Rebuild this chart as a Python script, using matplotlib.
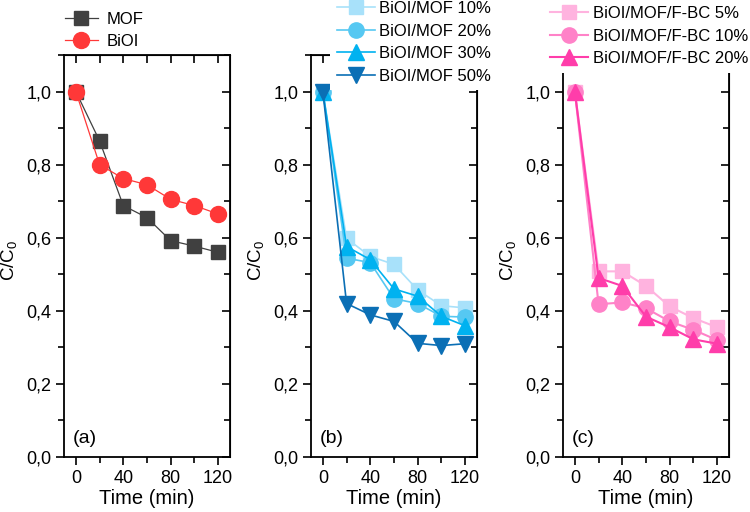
import matplotlib
matplotlib.use("Agg")
import matplotlib.pyplot as plt
from matplotlib.ticker import MultipleLocator, FuncFormatter

plt.rcParams['font.family'] = ['Liberation Sans', 'DejaVu Sans']

# time points (min)
time = [0, 20, 40, 60, 80, 100, 120]

# panel (a)
mof = [1.0, 0.865, 0.688, 0.655, 0.592, 0.577, 0.560]
bioi = [1.0, 0.80, 0.762, 0.745, 0.705, 0.688, 0.665]

# panel (b)
bm10 = [1.0, 0.598, 0.549, 0.527, 0.457, 0.414, 0.408]
bm20 = [1.0, 0.544, 0.532, 0.433, 0.420, 0.385, 0.383]
bm30 = [1.0, 0.576, 0.540, 0.460, 0.440, 0.385, 0.359]
bm50 = [1.0, 0.420, 0.389, 0.371, 0.311, 0.305, 0.310]

# panel (c)
fbc5 = [1.0, 0.508, 0.508, 0.468, 0.412, 0.380, 0.355]
fbc10 = [1.0, 0.418, 0.423, 0.407, 0.371, 0.348, 0.320]
fbc20 = [1.0, 0.490, 0.468, 0.384, 0.355, 0.322, 0.310]

fig = plt.figure(figsize=(7.5, 5.12), dpi=100)
lefts = [64 / 750, 311 / 750, 563 / 750]
axes = [fig.add_axes([l, 0.1074, 166 / 750, 402 / 512]) for l in lefts]

comma = FuncFormatter(lambda v, p: f"{v:.1f}".replace('.', ','))

for ax, lab in zip(axes, ['(a)', '(b)', '(c)']):
    ax.set_xlim(-10, 130)
    ax.set_ylim(0, 1.1)
    ax.xaxis.set_major_locator(MultipleLocator(40))
    ax.xaxis.set_minor_locator(MultipleLocator(20))
    ax.yaxis.set_major_locator(MultipleLocator(0.2))
    ax.yaxis.set_minor_locator(MultipleLocator(0.1))
    ax.yaxis.set_major_formatter(comma)
    for s in ax.spines.values():
        s.set_linewidth(1.3)
    ax.tick_params(which='both', direction='out', width=1.2, labelsize=13,
                   top=False, right=False, pad=3)
    ax.tick_params(which='major', length=6)
    ax.tick_params(which='minor', length=4)
    # inward ticks on top and right
    sx = ax.secondary_xaxis('top')
    sx.xaxis.set_major_locator(MultipleLocator(20))
    sx.tick_params(direction='in', length=6, width=1.2, labeltop=False)
    sy = ax.secondary_yaxis('right')
    sy.yaxis.set_major_locator(MultipleLocator(0.2))
    sy.yaxis.set_minor_locator(MultipleLocator(0.1))
    sy.tick_params(which='major', direction='in', length=6, width=1.2, labelright=False)
    sy.tick_params(which='minor', direction='in', length=4, width=1.2)
    ax.set_xlabel('Time (min)', fontsize=14.5, labelpad=2)
    ax.set_ylabel(r'$\mathregular{C/C_0}$', fontsize=13.5)
    ax.yaxis.set_label_coords(-0.27, 0.49)
    ax.text(0.055, 0.035, lab, transform=ax.transAxes, fontsize=14)

leg_kw = dict(fontsize=12, labelspacing=0.45, loc='upper left')

ax = axes[0]
ax.plot(time, mof, '-s', color='#404040', lw=0.9, ms=10, label='MOF')
ax.plot(time, bioi, '-o', color='#FF3838', lw=0.9, ms=11.5, label='BiOI')
h, l = ax.get_legend_handles_labels()
fig.legend(h, l, bbox_to_anchor=(0.086, 0.977), frameon=False, borderpad=0,
           borderaxespad=0, handlelength=2.0, handletextpad=0.5, **leg_kw)

ax = axes[1]
ax.plot(time, bm10, '-s', color='#A8E1FA', lw=1.2, ms=10, label='BiOI/MOF 10%')
ax.plot(time, bm20, '-o', color='#56C8F2', lw=1.2, ms=11, label='BiOI/MOF 20%')
ax.plot(time, bm30, '-^', color='#00B2F0', lw=1.2, ms=11, label='BiOI/MOF 30%')
ax.plot(time, bm50, '-v', color='#0B6FB5', lw=1.2, ms=11, label='BiOI/MOF 50%')
h, l = ax.get_legend_handles_labels()
fig.legend(h, l, bbox_to_anchor=(0.44, 1.011), frameon=True, facecolor='white',
           edgecolor='none', framealpha=1, fancybox=False, borderpad=0.4,
           borderaxespad=0, handlelength=2.3, handletextpad=0.25, **leg_kw)

ax = axes[2]
ax.plot(time, fbc5, '-s', color='#FFB3DF', lw=1.5, ms=10, label='BiOI/MOF/F-BC 5%')
ax.plot(time, fbc10, '-o', color='#FF82C8', lw=1.5, ms=11, label='BiOI/MOF/F-BC 10%')
ax.plot(time, fbc20, '-^', color='#FF3DAA', lw=1.5, ms=11, label='BiOI/MOF/F-BC 20%')
h, l = ax.get_legend_handles_labels()
fig.legend(h, l, bbox_to_anchor=(0.724, 1.001), frameon=True, facecolor='white',
           edgecolor='none', framealpha=1, fancybox=False, borderpad=0.4,
           borderaxespad=0, handlelength=2.3, handletextpad=0.3, **leg_kw)

fig.savefig('out.png', dpi=100)
